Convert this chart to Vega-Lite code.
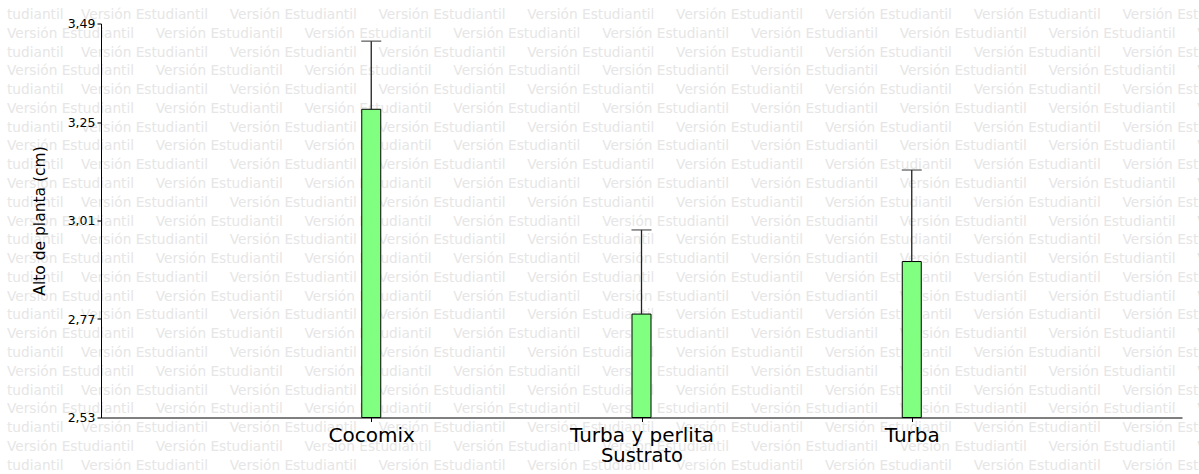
{
  "$schema": "https://vega.github.io/schema/vega-lite/v6.json",
  "width": 1081,
  "height": 394,
  "autosize": {"type": "none"},
  "padding": {"left": 101, "top": 23.5, "right": 17, "bottom": 56.5},
  "background": "white",
  "config": {"view": {"stroke": null}, "font": "DejaVu Sans"},
  "datasets": {
    "barras": [
      {"Sustrato": "Cocomix", "media": 3.281, "sup": 3.447},
      {"Sustrato": "Turba y perlita", "media": 2.782, "sup": 2.987},
      {"Sustrato": "Turba", "media": 2.91, "sup": 3.133}
    ],
    "marca": [
      {"r": 0, "k": "b"}, {"r": 1, "k": "a"}, {"r": 2, "k": "b"}, {"r": 3, "k": "a"}, {"r": 4, "k": "b"},
      {"r": 5, "k": "a"}, {"r": 6, "k": "b"}, {"r": 7, "k": "a"}, {"r": 8, "k": "b"}, {"r": 9, "k": "a"},
      {"r": 10, "k": "b"}, {"r": 11, "k": "a"}, {"r": 12, "k": "b"}, {"r": 13, "k": "a"}, {"r": 14, "k": "b"},
      {"r": 15, "k": "a"}, {"r": 16, "k": "b"}, {"r": 17, "k": "a"}, {"r": 18, "k": "b"}, {"r": 19, "k": "a"},
      {"r": 20, "k": "b"}, {"r": 21, "k": "a"}, {"r": 22, "k": "b"}, {"r": 23, "k": "a"}, {"r": 24, "k": "b"}
    ]
  },
  "layer": [
    {
      "data": {"name": "marca"},
      "encoding": {
        "x": {"datum": 0, "type": "quantitative", "scale": {"domain": [94, 1175], "nice": false, "zero": false}, "axis": null},
        "y": {"field": "r", "type": "quantitative", "scale": {"domain": [0.4526, 21.433], "reverse": true, "nice": false, "zero": false}, "axis": null}
      },
      "layer": [
        {
          "transform": [{"filter": "datum.k === 'a'"}],
          "mark": {"type": "text", "align": "left", "baseline": "middle", "font": "DejaVu Sans", "fontSize": 13.7, "color": "#e6e6e6",
            "text": "Versión Estudiantil\u00a0\u00a0\u00a0\u00a0\u00a0Versión Estudiantil\u00a0\u00a0\u00a0\u00a0\u00a0Versión Estudiantil\u00a0\u00a0\u00a0\u00a0\u00a0Versión Estudiantil\u00a0\u00a0\u00a0\u00a0\u00a0Versión Estudiantil\u00a0\u00a0\u00a0\u00a0\u00a0Versión Estudiantil\u00a0\u00a0\u00a0\u00a0\u00a0Versión Estudiantil\u00a0\u00a0\u00a0\u00a0\u00a0Versión Estudiantil\u00a0\u00a0\u00a0\u00a0\u00a0Versión Estudiantil"}
        },
        {
          "transform": [{"filter": "datum.k === 'b'"}],
          "mark": {"type": "text", "align": "left", "baseline": "middle", "font": "DejaVu Sans", "fontSize": 13.7, "color": "#e6e6e6",
            "text": "tudiantil\u00a0\u00a0\u00a0\u00a0Versión Estudiantil\u00a0\u00a0\u00a0\u00a0\u00a0Versión Estudiantil\u00a0\u00a0\u00a0\u00a0\u00a0Versión Estudiantil\u00a0\u00a0\u00a0\u00a0\u00a0Versión Estudiantil\u00a0\u00a0\u00a0\u00a0\u00a0Versión Estudiantil\u00a0\u00a0\u00a0\u00a0\u00a0Versión Estudiantil\u00a0\u00a0\u00a0\u00a0\u00a0Versión Estudiantil\u00a0\u00a0\u00a0\u00a0\u00a0Versión Estudiantil"}
        }
      ]
    },
    {
      "data": {"name": "barras"},
      "encoding": {
        "x": {
          "field": "Sustrato", "type": "nominal",
          "sort": ["Cocomix", "Turba y perlita", "Turba"],
          "scale": {"type": "point", "padding": 1},
          "axis": {
            "labelAngle": 0, "title": "Sustrato", "domainColor": "black", "tickColor": "black", "tickSize": 4,
            "labelColor": "black", "labelFont": "DejaVu Sans", "labelFontSize": 20, "labelPadding": 4,
            "titleFont": "DejaVu Sans", "titleFontSize": 19.5, "titleFontWeight": "normal", "titleColor": "black", "titlePadding": 1,
            "zindex": 1
          }
        }
      },
      "layer": [
        {
          "mark": {"type": "bar", "size": 19, "fill": "#80ff80", "stroke": "black", "strokeWidth": 1},
          "encoding": {
            "y": {
              "field": "media", "type": "quantitative", "title": "Alto de planta (cm)",
              "scale": {"domain": [2.53, 3.49], "nice": false, "zero": false},
              "axis": {
                "values": [2.53, 2.77, 3.01, 3.25, 3.49],
                "labelExpr": "replace(format(datum.value, '.2f'), '.', ',')",
                "grid": false, "domainColor": "black", "tickColor": "black", "tickSize": 4,
                "labelColor": "black", "labelFont": "DejaVu Sans", "labelFontSize": 12.5, "labelPadding": 2,
                "titleFont": "DejaVu Sans", "titleFontSize": 15.5, "titleFontWeight": "normal", "titleColor": "black", "titlePadding": 20,
                "zindex": 1
              }
            },
            "y2": {"datum": 2.53}
          }
        },
        {
          "mark": {"type": "rule", "color": "#222222", "strokeWidth": 1.3},
          "encoding": {
            "y": {"field": "media", "type": "quantitative", "title": "Alto de planta (cm)"},
            "y2": {"field": "sup"}
          }
        },
        {
          "mark": {"type": "tick", "orient": "horizontal", "size": 20, "thickness": 1.3, "color": "#222222"},
          "encoding": {
            "y": {"field": "sup", "type": "quantitative", "title": "Alto de planta (cm)"}
          }
        }
      ]
    }
  ],
  "resolve": {"scale": {"x": "independent", "y": "independent"}}
}
